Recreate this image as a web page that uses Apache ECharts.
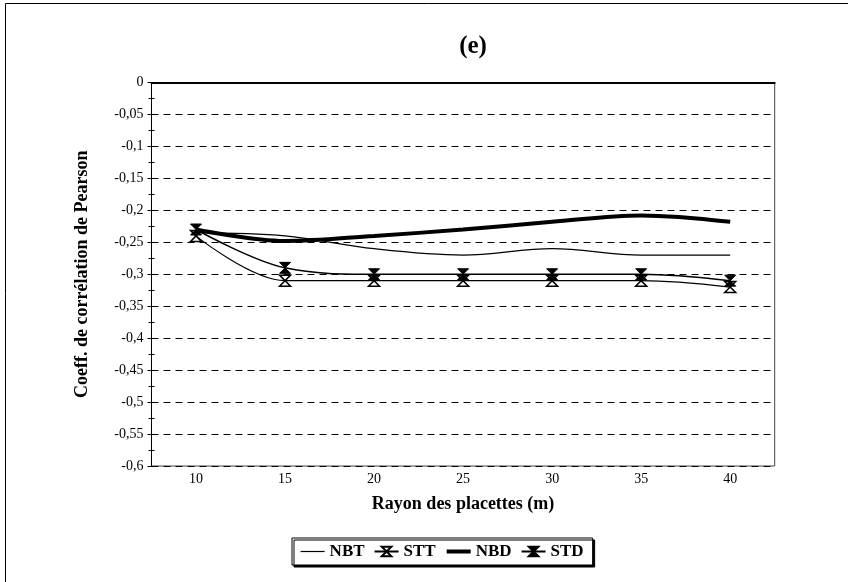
<!DOCTYPE html>
<html>
<head>
<meta charset="utf-8">
<script src="https://cdn.jsdelivr.net/npm/echarts@6/dist/echarts.min.js"></script>
<style>html,body{margin:0;padding:0;background:#fff;}#c{width:848px;height:582px;}</style>
</head>
<body>
<div id="c"></div>
<script>
const categories = ['10', '15', '20', '25', '30', '35', '40'];
const NBT = [-0.235, -0.24, -0.26, -0.27, -0.26, -0.27, -0.27];
const STT = [-0.24, -0.31, -0.31, -0.31, -0.31, -0.31, -0.32];
const NBD = [-0.23, -0.248, -0.24, -0.23, -0.218, -0.208, -0.218];
const STD = [-0.23, -0.29, -0.30, -0.30, -0.30, -0.30, -0.31];
const yTicks = { min: -0.6, max: 0, interval: 0.05 };

const FONT = '"Liberation Serif", "DejaVu Serif", serif';
const hourglass = 'path://M0,0L10,0L0,10L10,10Z';
const fmt = v => (Math.abs(v) < 1e-9 ? '0' : (Math.round(v * 100) / 100).toString().replace('.', ','));

const chart = echarts.init(document.getElementById('c'), null, { renderer: 'canvas' });
chart.setOption({
  backgroundColor: '#fff',
  animation: false,
  title: {
    text: '(e)', left: 468, top: 29, textAlign: 'center',
    textStyle: { fontFamily: FONT, fontWeight: 'bold', fontSize: 25, color: '#000' }
  },
  graphic: [{
    type: 'rect', shape: { x: 5.5, y: 3.5, width: 900, height: 700 },
    style: { fill: 'none', stroke: '#000', lineWidth: 1 }, silent: true
  }],
  grid: { left: 151.5, top: 82.5, right: 73.3, bottom: 116, show: true, borderColor: '#444', borderWidth: 1, containLabel: false },
  legend: {
    left: 292, top: 538, orient: 'horizontal',
    data: [
      { name: 'NBT', itemStyle: { color: 'transparent', borderWidth: 0 }, lineStyle: { width: 1.2, color: '#000' } },
      { name: 'STT' },
      { name: 'NBD', itemStyle: { color: 'transparent', borderWidth: 0 }, lineStyle: { width: 4, color: '#000' } },
      { name: 'STD' }
    ],
    itemWidth: 24, itemHeight: 12, itemGap: 9,
    padding: [5, 9, 5, 8],
    borderColor: '#000', borderWidth: 1, backgroundColor: '#fff',
    shadowColor: '#000', shadowOffsetX: 2, shadowOffsetY: 2, shadowBlur: 0,
    textStyle: { fontFamily: FONT, fontWeight: 'bold', fontSize: 17, color: '#000' }
  },
  xAxis: [{
    type: 'category', data: categories, boundaryGap: true,
    name: 'Rayon des placettes (m)', nameLocation: 'middle', nameGap: 29,
    nameTextStyle: { fontFamily: FONT, fontWeight: 'bold', fontSize: 18, color: '#000' },
    axisLine: { lineStyle: { color: '#000', width: 2 } },
    axisTick: { alignWithLabel: true, length: 3, lineStyle: { color: '#000' } },
    axisLabel: { fontFamily: FONT, fontSize: 14, color: '#000', margin: 6 },
    splitLine: { show: false }
  }, {
    type: 'category', data: categories, boundaryGap: true, position: 'bottom',
    axisLine: { show: false },
    axisTick: { alignWithLabel: true, inside: true, length: 6, lineStyle: { color: '#000' } },
    axisLabel: { show: false }, splitLine: { show: false }
  }],
  yAxis: [{
    type: 'value', min: yTicks.min, max: yTicks.max, interval: yTicks.interval,
    name: 'Coeff. de corrélation de Pearson', nameLocation: 'middle', nameGap: 60,
    nameTextStyle: { fontFamily: FONT, fontWeight: 'bold', fontSize: 18, color: '#000' },
    axisLine: { show: true, lineStyle: { color: '#000', width: 1 } },
    axisTick: { show: true, length: 4, lineStyle: { color: '#000' } },
    minorTick: { show: true, splitNumber: 2, length: 3, lineStyle: { color: '#000' } },
    axisLabel: { fontFamily: FONT, fontSize: 14, color: '#000', margin: 8, formatter: fmt },
    splitLine: { show: true, lineStyle: { color: '#000', width: 1, type: [7, 5] } }
  }, {
    type: 'value', min: yTicks.min, max: yTicks.max, interval: yTicks.interval, position: 'left',
    axisLine: { show: false },
    axisTick: { show: true, inside: true, length: 4, lineStyle: { color: '#000' } },
    minorTick: { show: true, splitNumber: 2, length: 3, lineStyle: { color: '#000' } },
    axisLabel: { show: false }, splitLine: { show: false }
  }],
  series: [
    { name: 'NBT', type: 'line', data: NBT, smooth: 0.35, showSymbol: false, symbol: 'none',
      lineStyle: { color: '#000', width: 1.2 }, itemStyle: { color: '#000' }, z: 2 },
    { name: 'STT', type: 'line', data: STT, smooth: 0.35, symbol: hourglass, symbolSize: [11, 11],
      lineStyle: { color: '#000', width: 1.2 }, itemStyle: { color: '#fff', borderColor: '#000', borderWidth: 1.5 }, z: 3 },
    { name: 'NBD', type: 'line', data: NBD, smooth: 0.35, showSymbol: false, symbol: 'none',
      lineStyle: { color: '#000', width: 4 }, itemStyle: { color: '#000' }, z: 4 },
    { name: 'STD', type: 'line', data: STD, smooth: 0.35, symbol: hourglass, symbolSize: [11, 11],
      lineStyle: { color: '#000', width: 1.5 }, itemStyle: { color: '#000', borderColor: '#000', borderWidth: 1 }, z: 5 }
  ]
});
</script>
</body>
</html>
